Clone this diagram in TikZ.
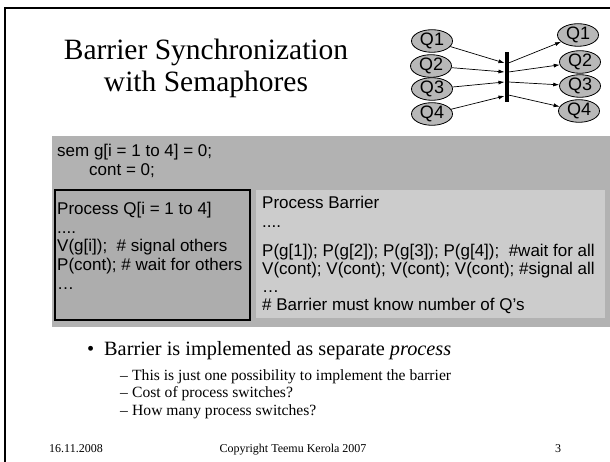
\documentclass[tikz,border=0pt]{standalone}
\usepackage{fontspec}
\setmainfont{Liberation Serif}
\newfontfamily\arialf{Liberation Sans}
\usetikzlibrary{arrows.meta,shapes.geometric}
\definecolor{bandgray}{gray}{0.70}
\definecolor{qgray}{gray}{0.68}
\definecolor{bargray}{gray}{0.80}
\definecolor{elgray}{gray}{0.72}
\tikzset{
  qell/.style={ellipse, draw=black, line width=0.8pt, fill=elgray, minimum width=41pt, minimum height=19pt, inner sep=0pt, font=\arialf\fontsize{18}{18}\selectfont},
  arr/.style={-{Latex[length=6pt,width=4pt]}, line width=0.7pt},
  code/.style={anchor=base west, inner sep=0pt, font=\arialf\fontsize{17}{19}\selectfont},
  titletext/.style={anchor=base, inner sep=0pt, font=\fontsize{29.5}{34}\selectfont},
  bul/.style={anchor=base west, inner sep=0pt, font=\fontsize{20.3}{24}\selectfont},
  sub/.style={anchor=base west, inner sep=0pt, font=\fontsize{15.6}{18}\selectfont},
  foot/.style={anchor=base, inner sep=0pt, font=\fontsize{12}{14}\selectfont}
}
\begin{document}
\begin{tikzpicture}[x=1pt,y=-1pt]
\useasboundingbox (0,0) rectangle (610,462);
\fill[white] (0,0) rectangle (610,462);
% slide frame
\draw[line width=2pt] (4.5,462) -- (4.5,8) -- (610,8);
% title
\node[titletext] (t1) at (206,60) {Barrier Synchronization};
\node[titletext] (t2) at (206,92) {with Semaphores};
% top-right diagram
\node[qell] (L1) at (432,41) {Q1};
\node[qell] (L2) at (431,66) {Q2};
\node[qell] (L3) at (432,89) {Q3};
\node[qell] (L4) at (432,114) {Q4};
\node[qell] (R1) at (578,35) {Q1};
\node[qell] (R2) at (580,62) {Q2};
\node[qell] (R3) at (580,86) {Q3};
\node[qell] (R4) at (579,111) {Q4};
\node[fill=black, minimum width=4pt, minimum height=50pt, inner sep=0pt] (bar) at (506.5,77) {};
\coordinate (a1) at (504.5,63);
\coordinate (a2) at (504.5,72);
\coordinate (a3) at (504.5,82);
\coordinate (a4) at (504.5,96);
\coordinate (b1) at (508.5,63);
\coordinate (b2) at (508.5,72);
\coordinate (b3) at (508.5,82);
\coordinate (b4) at (508.5,95);
\draw[arr] (L1) -- (a1);
\draw[arr] (L2) -- (a2);
\draw[arr] (L3) -- (a3);
\draw[arr] (L4) -- (a4);
\draw[arr] (b1) -- (R1);
\draw[arr] (b2) -- (R2);
\draw[arr] (b3) -- (R3);
\draw[arr] (b4) -- (R4);
% gray band
\fill[bandgray] (52,136) rectangle (610,327);
\node[code] (s1) at (57,157) {sem g[i = 1 to 4] = 0;};
\node[code] (s2) at (89,176) {cont = 0;};
% Q box
\draw[line width=1.5pt, fill=qgray] (55,190) rectangle (250,320);
\node[code] (q1) at (57,215) {Process Q[i = 1 to 4]};
\node[code] (q2) at (57,234) {....};
\node[code] (q3) at (57,252) {V(g[i]);\ \ \# signal others};
\node[code] (q4) at (57,270) {P(cont); \# wait for others};
\node[code] (q5) at (57,290) {\dots};
% Barrier box
\fill[bargray] (256,190) rectangle (605,318);
\node[code] (p1) at (262,209) {Process Barrier};
\node[code] (p2) at (262,228) {....};
\node[code] (p3) at (262,257) {P(g[1]); P(g[2]); P(g[3]); P(g[4]);\ \ \#wait for all};
\node[code] (p4) at (262,275) {V(cont); V(cont); V(cont); V(cont); \#signal all};
\node[code] (p5) at (262,292) {\dots};
\node[code] (p6) at (262,310) {\# Barrier must know number of Q’s};
% bullets
\node[bul] (m0) at (87,355) {•};
\node[bul] (m1) at (104,355) {Barrier is implemented as separate \textit{process}};
\node[sub] (d1) at (120,380) {–};
\node[sub] (e1) at (132,380) {This is just one possibility to implement the barrier};
\node[sub] (d2) at (120,397.5) {–};
\node[sub] (e2) at (132,397.5) {Cost of process switches?};
\node[sub] (d3) at (120,415) {–};
\node[sub] (e3) at (132,415) {How many process switches?};
% footer
\node[foot, anchor=base west] (f1) at (49,452) {16.11.2008};
\node[foot] (f2) at (293,452) {Copyright Teemu Kerola 2007};
\node[foot] (f3) at (558,452) {3};
\end{tikzpicture}
\end{document}
